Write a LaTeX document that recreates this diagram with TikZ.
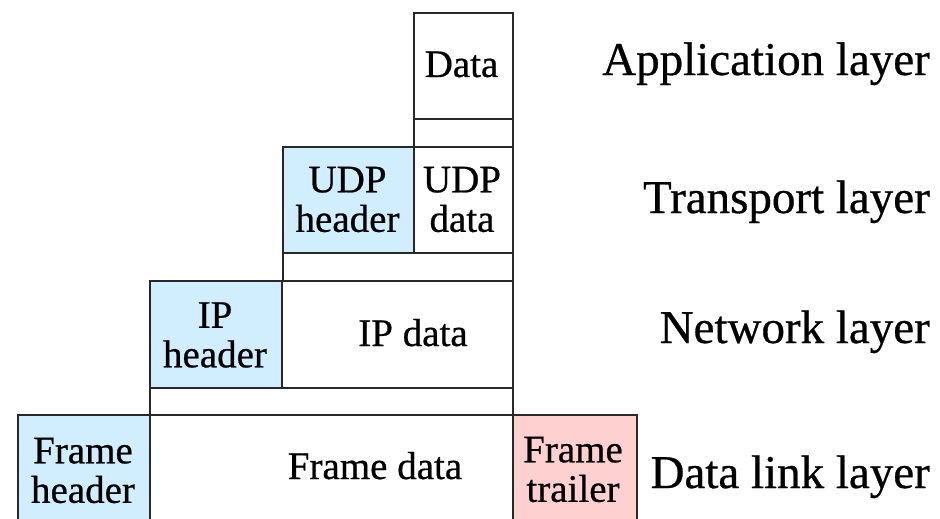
\documentclass[tikz,border=0pt]{standalone}
\usepackage{fontspec}
\setmainfont{Liberation Serif}[FakeBold=0.6]
\definecolor{hdrblue}{RGB}{208,238,255}
\definecolor{trlpink}{RGB}{255,208,208}
\definecolor{edgegray}{RGB}{40,40,40}
\begin{document}
\begin{tikzpicture}[x=1pt,y=-1pt,
  cell/.style={draw=edgegray, line width=2.3pt, inner sep=0pt, anchor=north west},
  hdr/.style={cell, fill=hdrblue},
  trl/.style={cell, fill=trlpink},
  txt/.style={font=\fontsize{39}{39.5}\selectfont, align=center, inner sep=0pt},
  lay/.style={font=\fontsize{47}{50}\selectfont, inner sep=0pt, anchor=base east}]
\clip (0,0) rectangle (940,519);
% Application layer
\node[cell, minimum width=99pt, minimum height=106pt] (data) at (413,12) {};
\node[cell, minimum width=99pt, minimum height=28pt] (appstrip) at (413,118) {};
% Transport layer
\node[hdr, minimum width=131pt, minimum height=106pt] (udph) at (282,146) {};
\node[cell, minimum width=99pt, minimum height=106pt] (udpd) at (413,146) {};
\node[cell, minimum width=230pt, minimum height=28pt] (trstrip) at (282,252) {};
% Network layer
\node[hdr, minimum width=132pt, minimum height=107pt] (iph) at (149,280) {};
\node[cell, minimum width=231pt, minimum height=107pt] (ipd) at (281,280) {};
\node[cell, minimum width=363pt, minimum height=27pt] (netstrip) at (149,387) {};
% Data link layer
\node[hdr, minimum width=132pt, minimum height=130pt] (frh) at (17,414) {};
\node[cell, minimum width=363pt, minimum height=130pt] (frd) at (149,414) {};
\node[trl, minimum width=124pt, minimum height=130pt] (frt) at (512,414) {};
% Box texts
\node[txt, anchor=base] (tdata) at (461.5,77) {Data};
\node[txt] (tudph) at (347.5,199.5) {UDP\\header};
\node[txt] (tudpd) at (462,199.5) {UDP\\data};
\node[txt] (tiph) at (215,335) {IP\\header};
\node[txt, anchor=base] (tipd) at (413,346) {IP data};
\node[txt] (tfrh) at (83,470.5) {Frame\\header};
\node[txt, anchor=base] (tfrd) at (375,479) {Frame data};
\node[txt] (tfrt) at (573,469.5) {Frame\\trailer};
% Layer labels
\node[lay] (lapp) at (930,75) {Application layer};
\node[lay] (ltr) at (930,213) {Transport layer};
\node[lay] (lnet) at (930,343) {Network layer};
\node[lay] (ldl) at (930,488) {Data link layer};
\end{tikzpicture}
\end{document}
